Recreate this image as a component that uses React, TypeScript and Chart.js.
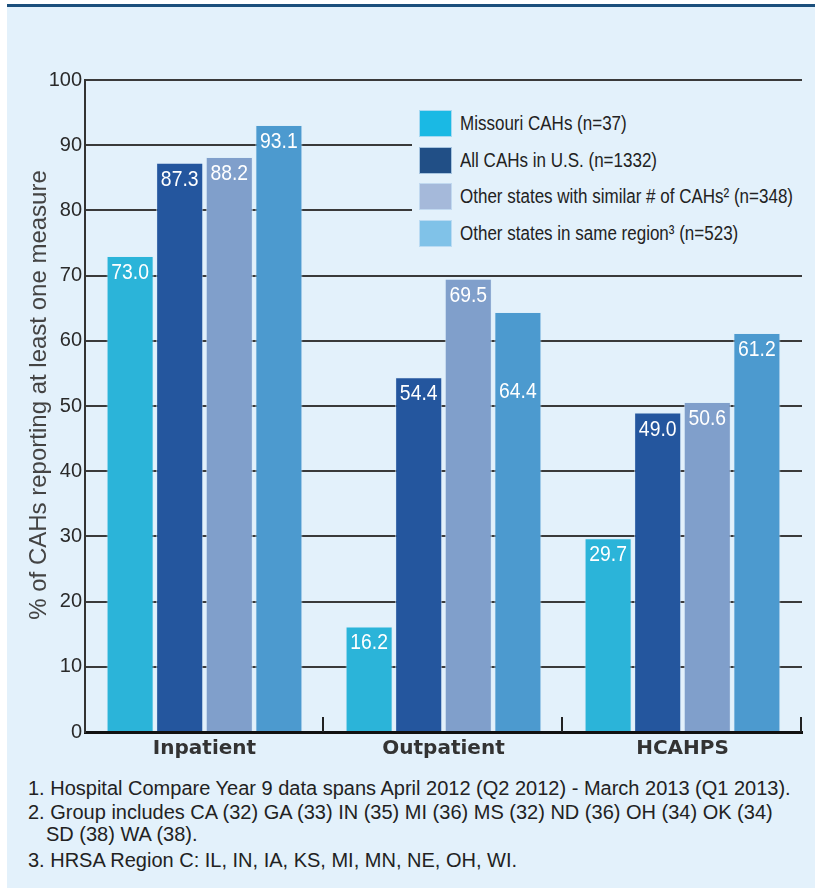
import React, { useEffect, useRef } from "react";
import { Chart, registerables } from "chart.js";

Chart.register(...registerables);

const categories = ["Inpatient", "Outpatient", "HCAHPS"];
const seriesNames = [
  "Missouri CAHs (n=37)",
  "All CAHs in U.S. (n=1332)",
  "Other states with similar # of CAHs² (n=348)",
  "Other states in same region³ (n=523)",
];
const missouri = [73.0, 16.2, 29.7];
const allUS = [87.3, 54.4, 49.0];
const similarStates = [88.2, 69.5, 50.6];
const sameRegion = [93.1, 64.4, 61.2];
const yTickValues = [0, 10, 20, 30, 40, 50, 60, 70, 80, 90, 100];
const yTitle = "% of CAHs reporting at least one measure";
const footnotes = [
  "1. Hospital Compare Year 9 data spans April 2012 (Q2 2012) - March 2013 (Q1 2013).",
  "2. Group includes CA (32) GA (33) IN (35) MI (36) MS (32) ND (36) OH (34) OK (34)",
  "SD (38) WA (38).",
  "3. HRSA Region C: IL, IN, IA, KS, MI, MN, NE, OH, WI.",
];

const barColors = ["#2bb4d9", "#24569e", "#809fcb", "#4c9acf"];
const swatchColors = ["#1ab9e4", "#214f86", "#a5b9da", "#80c2e8"];
const BG = "#e3f1fb";
const SANS = '"Liberation Sans", Arial, sans-serif';

const barLabelsPlugin = {
  id: "barLabels",
  afterDatasetsDraw(chart: any, _args: any, opts: any) {
    const ctx = chart.ctx;
    chart.data.datasets.forEach((ds: any, di: number) => {
      const meta = chart.getDatasetMeta(di);
      meta.data.forEach((bar: any, i: number) => {
        const v = ds.data[i];
        const key = di + ":" + i;
        const drop = opts.drops && opts.drops[key] !== undefined ? opts.drops[key] : opts.offset;
        ctx.save();
        ctx.font = opts.font;
        ctx.fillStyle = "#ffffff";
        ctx.textAlign = "center";
        ctx.textBaseline = "middle";
        ctx.translate(bar.x, bar.y + drop);
        ctx.scale(opts.squeeze, 1);
        ctx.fillText(Number(v).toFixed(1), 0, 0);
        ctx.restore();
      });
    });
  },
};

const boundaryTicksPlugin = {
  id: "boundaryTicks",
  afterDatasetsDraw(chart: any) {
    const { ctx, chartArea } = chart;
    const n = chart.data.labels.length;
    const w = (chartArea.right - chartArea.left) / n;
    ctx.save();
    ctx.strokeStyle = "#222";
    ctx.lineWidth = 2;
    for (let i = 1; i <= n; i++) {
      const x = Math.round(chartArea.left + i * w) - 1;
      ctx.beginPath();
      ctx.moveTo(x, chartArea.bottom);
      ctx.lineTo(x, chartArea.bottom - 15);
      ctx.stroke();
    }
    ctx.restore();
  },
};

const yTitlePlugin = {
  id: "yTitleCustom",
  afterDraw(chart: any, _args: any, opts: any) {
    const ctx = chart.ctx;
    ctx.save();
    ctx.translate(opts.x, opts.y);
    ctx.rotate(-Math.PI / 2);
    ctx.font = opts.font;
    ctx.fillStyle = opts.color;
    ctx.textAlign = "center";
    ctx.textBaseline = "middle";
    ctx.fillText(opts.text, 0, 0);
    ctx.restore();
  },
};

export default function App() {
  const canvasRef = useRef<HTMLCanvasElement | null>(null);

  useEffect(() => {
    if (!canvasRef.current) return;
    const seriesData = [missouri, allUS, similarStates, sameRegion];
    const chart = new Chart(canvasRef.current, {
      type: "bar",
      data: {
        labels: categories,
        datasets: seriesData.map((d, i) => ({
          label: seriesNames[i],
          data: d,
          backgroundColor: barColors[i],
          borderColor: "rgba(220,238,250,0.7)",
          borderWidth: 1,
          barPercentage: 0.95,
          categoryPercentage: 0.83,
        })),
      },
      options: {
        animation: false,
        responsive: true,
        maintainAspectRatio: false,
        layout: { padding: { top: 80, right: 13, bottom: 0, left: 0 } },
        plugins: {
          legend: { display: false },
          tooltip: { enabled: false },
          barLabels: {
            font: "22px " + SANS,
            squeeze: 0.88,
            offset: 17,
            drops: { "3:1": 80 },
          },
          yTitleCustom: {
            text: yTitle,
            x: 31,
            y: 395,
            font: "24px " + SANS,
            color: "#444",
          },
        } as any,
        scales: {
          x: {
            grid: { display: false, drawTicks: false },
            border: { display: true, color: "#111", width: 3 },
            ticks: {
              color: "#333",
              font: { family: '"DejaVu Sans", sans-serif', size: 20, weight: "bold" },
              padding: 5,
            },
            afterFit: (scale: any) => {
              scale.height = 43;
            },
          },
          y: {
            min: 0,
            max: 100,
            afterBuildTicks: (scale: any) => {
              scale.ticks = yTickValues.map((v) => ({ value: v }));
            },
            grid: { color: "#3a3a3a", lineWidth: 2, drawTicks: false },
            border: { display: true, color: "#333", width: 2 },
            ticks: {
              color: "#2a2a2a",
              font: { family: SANS, size: 20 },
              padding: 3,
            },
            afterFit: (scale: any) => {
              scale.width = 77;
            },
          },
        },
      },
      plugins: [barLabelsPlugin, boundaryTicksPlugin, yTitlePlugin],
    } as any);
    return () => chart.destroy();
  }, []);

  return (
    <div style={{ position: "absolute", left: 0, top: 0, width: 815, height: 890, background: "#fff", overflow: "hidden" }}>
      <div style={{ position: "absolute", left: 7, top: 7, width: 808, height: 881, background: BG }} />
      <div style={{ position: "absolute", left: 7, top: 4, width: 808, height: 3, background: "#1b4f7c" }} />
      <div style={{ position: "absolute", left: 8, top: 0, width: 807, height: 775 }}>
        <canvas ref={canvasRef} />
      </div>
      <div
        style={{
          position: "absolute",
          left: 412,
          top: 95,
          width: 393,
          height: 167,
          background: BG,
        }}
      >
        {seriesNames.map((name, i) => (
          <div
            key={name}
            style={{
              position: "absolute",
              left: 7,
              top: 15 + i * 36.5,
              height: 27,
              display: "flex",
              alignItems: "center",
              whiteSpace: "nowrap",
            }}
          >
            <div
              style={{
                width: 33,
                height: 27,
                boxSizing: "border-box",
                background: swatchColors[i],
                border: "1px solid rgba(200,225,245,0.8)",
              }}
            />
            <span
              style={{
                marginLeft: 8,
                fontFamily: SANS,
                fontSize: 20,
                color: "#222",
                display: "inline-block",
                transform: "scaleX(0.85)",
                transformOrigin: "left center",
              }}
            >
              {name}
            </span>
          </div>
        ))}
      </div>
      {footnotes.map((t, i) => {
        const tops = [777, 801, 823, 849];
        const lefts = [28, 28, 46, 28];
        return (
          <div
            key={i}
            style={{
              position: "absolute",
              left: lefts[i],
              top: tops[i],
              fontFamily: SANS,
              fontSize: 20,
              lineHeight: "22px",
              color: "#222",
              whiteSpace: "nowrap",
            }}
          >
            {t}
          </div>
        );
      })}
    </div>
  );
}
